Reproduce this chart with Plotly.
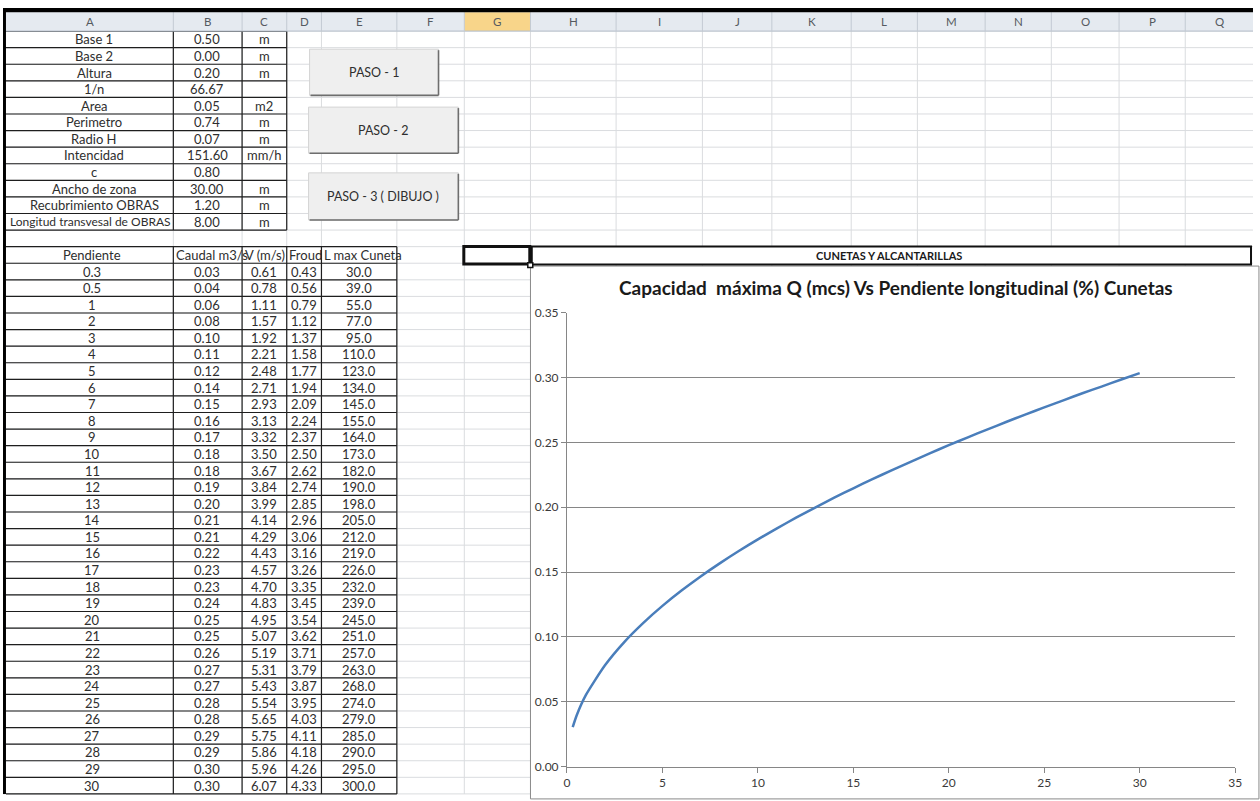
import plotly.graph_objects as go

W, H = 1260, 801

# ---- parameter block (columns A-C, rows 1-12)
param_names = ["Base 1", "Base 2", "Altura", "1/n", "Area", "Perimetro", "Radio H",
               "Intencidad", "c", "Ancho de zona", "Recubrimiento OBRAS",
               "Longitud transvesal de OBRAS"]
param_values = [0.50, 0.00, 0.20, 66.67, 0.05, 0.74, 0.07, 151.60, 0.80, 30.00, 1.20, 8.00]
param_units = ["m", "m", "m", "", "m2", "m", "m", "mm/h", "", "m", "m", "m"]

# ---- results table (columns A-E, rows 14-46)
table_headers = ["Pendiente", "Caudal m3/s", "V (m/s)", "Froud", "L max Cuneta"]
pendiente = [0.3, 0.5, 1, 2, 3, 4, 5, 6, 7, 8, 9, 10, 11, 12, 13, 14, 15, 16, 17, 18,
             19, 20, 21, 22, 23, 24, 25, 26, 27, 28, 29, 30]
caudal = [0.0304, 0.0392, 0.0554, 0.0783, 0.0960, 0.1108, 0.1239, 0.1357, 0.1466, 0.1567,
          0.1662, 0.1752, 0.1837, 0.1919, 0.1997, 0.2073, 0.2146, 0.2216, 0.2284, 0.2349,
          0.2415, 0.2478, 0.2539, 0.2598, 0.2657, 0.2714, 0.2770, 0.2824, 0.2879, 0.2930,
          0.2983, 0.3034]
velocidad = [0.61, 0.78, 1.11, 1.57, 1.92, 2.21, 2.48, 2.71, 2.93, 3.13, 3.32, 3.50, 3.67,
             3.84, 3.99, 4.14, 4.29, 4.43, 4.57, 4.70, 4.83, 4.95, 5.07, 5.19, 5.31, 5.43,
             5.54, 5.65, 5.75, 5.86, 5.96, 6.07]
froude = [0.43, 0.56, 0.79, 1.12, 1.37, 1.58, 1.77, 1.94, 2.09, 2.24, 2.37, 2.50, 2.62,
          2.74, 2.85, 2.96, 3.06, 3.16, 3.26, 3.35, 3.45, 3.54, 3.62, 3.71, 3.79, 3.87,
          3.95, 4.03, 4.11, 4.18, 4.26, 4.33]
l_max = [30.0, 39.0, 55.0, 77.0, 95.0, 110.0, 123.0, 134.0, 145.0, 155.0, 164.0, 173.0,
         182.0, 190.0, 198.0, 205.0, 212.0, 219.0, 226.0, 232.0, 239.0, 245.0, 251.0,
         257.0, 263.0, 268.0, 274.0, 279.0, 285.0, 290.0, 295.0, 300.0]

column_letters = ["A", "B", "C", "D", "E", "F", "G", "H", "I", "J", "K", "L", "M", "N",
                  "O", "P", "Q"]
button_labels = ["PASO - 1", "PASO - 2", "PASO - 3 ( DIBUJO )"]
banner_text = "CUNETAS Y ALCANTARILLAS"
chart_title = "Capacidad\u00a0 máxima Q (mcs) Vs Pendiente longitudinal (%) Cunetas"

# ---- sheet geometry (pixels)
col_edges = [3, 171.7, 241, 286, 321, 397, 465, 531.7, 618, 705, 775, 855, 921.7, 990,
             1056.7, 1125, 1191.7, 1262]
HEAD_TOP, HEAD_BOT = 4.3, 23.5
ROW_H = 16.9
N_ROWS = 46
FONT = "Lato"
INK = "#2e2e2e"


def fx(x):
    return x / W


def fy(y):
    return 1 - y / H


def row_top(k):
    return HEAD_BOT + k * ROW_H


def row_mid(k):
    # k is 1-based spreadsheet row
    return HEAD_BOT + (k - 0.5) * ROW_H


shapes = []
annotations = []


def line(x0, y0, x1, y1, color, width=1):
    shapes.append(dict(type="line", xref="paper", yref="paper", layer="below",
                       x0=fx(x0), y0=fy(y0), x1=fx(x1), y1=fy(y1),
                       line=dict(color=color, width=width)))


def rect(x0, y0, x1, y1, fill, color=None, width=0):
    shapes.append(dict(type="rect", xref="paper", yref="paper", layer="below",
                       x0=fx(x0), y0=fy(y1), x1=fx(x1), y1=fy(y0),
                       fillcolor=fill,
                       line=dict(color=color or fill, width=width)))


def text(x, y, s, size=13, color=INK, anchor="center", bold=False):
    annotations.append(dict(xref="paper", yref="paper", x=fx(x), y=fy(y),
                            text=f"<b>{s}</b>" if bold else s, showarrow=False,
                            xanchor=anchor, yanchor="middle",
                            font=dict(family=FONT, size=size, color=color)))


# light sheet gridlines
GRID = "#dadcdf"
for k in range(N_ROWS + 1):
    line(0, row_top(k), W, row_top(k), GRID)
for xe in col_edges[1:-1]:
    line(xe, HEAD_BOT, xe, H, GRID)

# parameter block borders
for k in range(13):
    line(0, row_top(k), 286, row_top(k), "#1e1e1e", 1.2)
for xe in [171.7, 241, 286]:
    line(xe, row_top(0), xe, row_top(12), "#1e1e1e", 1.2)

# results table borders
for k in range(13, N_ROWS + 1):
    line(3, row_top(k), 397, row_top(k), "#1e1e1e", 1.2)
for xe in [171.7, 241, 286, 321, 397]:
    line(xe, row_top(13), xe, H, "#1e1e1e", 1.2)

# buttons
buttons = [(309, 42, 439, 89), (308, 101, 459, 148), (308, 168, 459, 216)]
for (x0, y0, x1, y1), lab in zip(buttons, button_labels):
    rect(x0, y0, x1, y1, "#efefef", "#d4d4d4", 1)
    line(x1, y0 + 1, x1, y1, "#6e6e6e", 1.6)
    line(x0 + 1, y1, x1, y1, "#6e6e6e", 1.6)
    text((x0 + x1) / 2, (y0 + y1) / 2, lab, size=12.5)

# chart area
rect(531.7, 263, 1266, 806, "white", "#8a8a8a", 1)

# merged banner cell and selected cell
rect(533, 243, 1258, 261.5, "white", "#111111", 2)
text(893, 252.5, banner_text, size=11, color="#1a1a1a", bold=True)
rect(464.5, 243, 531, 261, "white", "#111111", 3)
rect(529, 259.5, 534, 264.5, "white", "#111111", 1.5)

# column header strip
rect(0, HEAD_TOP, W, HEAD_BOT, "#e5eaf0")
rect(col_edges[6], HEAD_TOP, col_edges[7], HEAD_BOT, "#f8d58a")
line(0, HEAD_BOT, W, HEAD_BOT, "#b5bfca", 1)
for xe in col_edges[1:-1]:
    line(xe, HEAD_TOP, xe, HEAD_BOT, "#c3cad3", 1)
for i, letter in enumerate(column_letters):
    text((col_edges[i] + col_edges[i + 1]) / 2, 14, letter, size=11.5, color="#555a60")

# window frame
rect(0, 0, W, HEAD_TOP, "black")
rect(0, 0, 3, H, "black")

# parameter block text
for i, (name, val, unit) in enumerate(zip(param_names, param_values, param_units)):
    yc = row_mid(i + 1)
    if len(name) > 24:
        text(88, yc, name, size=12)
    else:
        text(92, yc, name)
    text(206, yc, f"{val:.2f}")
    if unit:
        text(263.5, yc, unit)

# results table header (text runs to the cell edges)
hy = row_mid(14)
text(90, hy, table_headers[0])
text(172.5, hy, table_headers[1], anchor="left")
text(241.5, hy, table_headers[2], anchor="left")
text(286.5, hy, table_headers[3], anchor="left")
text(321.5, hy, table_headers[4], anchor="left")

# results table body
for i in range(len(pendiente)):
    yc = row_mid(15 + i)
    text(90, yc, f"{pendiente[i]:g}")
    text(206, yc, f"{caudal[i]:.2f}")
    text(263.5, yc, f"{velocidad[i]:.2f}")
    text(303.5, yc, f"{froude[i]:.2f}")
    text(359, yc, f"{l_max[i]:.1f}")

# chart title
text(900, 285, chart_title, size=19, color="#1a1a1a", bold=True)

fig = go.Figure()
fig.add_trace(go.Scatter(
    x=pendiente, y=caudal, mode="lines",
    line=dict(color="#4a7ebb", width=2.5, shape="spline", smoothing=0.6),
    hoverinfo="x+y",
))

AX = "#868686"
fig.update_layout(
    width=W, height=H,
    margin=dict(l=0, r=0, t=0, b=0),
    paper_bgcolor="white",
    plot_bgcolor="rgba(0,0,0,0)",
    showlegend=False,
    shapes=shapes,
    annotations=annotations,
    xaxis=dict(
        domain=[568.5 / W, 1242 / W],
        range=[0, 35], tick0=0, dtick=5,
        ticks="outside", ticklen=5, tickcolor=AX,
        showline=True, linecolor=AX, linewidth=1,
        showgrid=False, zeroline=False,
        tickfont=dict(family=FONT, size=12, color="#3a3a3a"),
    ),
    yaxis=dict(
        domain=[1 - 773 / H, 1 - 310.5 / H],
        range=[0, 0.35], tick0=0, dtick=0.05, tickformat=".2f",
        ticks="outside", ticklen=5, tickcolor=AX,
        showline=True, linecolor=AX, linewidth=1,
        showgrid=True, gridcolor=AX, gridwidth=1, zeroline=False,
        tickfont=dict(family=FONT, size=12, color="#3a3a3a"),
    ),
)

fig.write_html("out.html")
